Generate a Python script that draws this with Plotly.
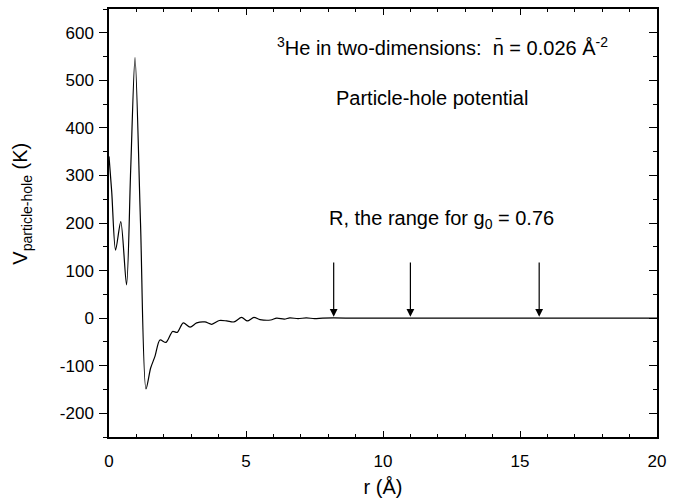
import plotly.graph_objects as go

# Particle-hole potential of 2D 3He, r in Angstrom, V in K
r_vals = [0.0, 0.10, 0.24, 0.43, 0.64, 0.79, 0.95, 1.15, 1.35, 1.52, 1.68, 1.86,
          2.08, 2.32, 2.49, 2.71, 2.96, 3.20, 3.50, 3.75, 4.03, 4.30, 4.56, 4.84,
          5.05, 5.29, 5.51, 5.90, 6.12, 6.40, 6.60, 6.90, 7.20, 7.50, 7.80, 8.20,
          9.00, 10.0, 12.0, 15.0, 20.0]
v_vals = [340, 265, 143, 203, 70, 310, 548, 200, -149, -105, -80, -46,
          -51, -28, -30, -10, -19, -10, -8, -13, -5, -6, -8, 1.5,
          -6, 1.5, -3, -4, 0, -2, 0.5, -1, 0.5, -1, 0, 0.3,
          0, 0, 0, 0, 0]

# Range markers R for g0 = 0.76
range_marks = [8.2, 11.0, 15.7]
arrow_top = 120
arrow_tip = 3

x_ticks = [0, 5, 10, 15, 20]
y_ticks = [-200, -100, 0, 100, 200, 300, 400, 500, 600]
y_ticklabels = [str(v) for v in y_ticks]

FONT = "Liberation Sans, Arial, sans-serif"

fig = go.Figure()
fig.add_trace(go.Scatter(
    x=r_vals, y=v_vals, mode="lines",
    line=dict(color="black", width=1.2, shape="spline", smoothing=0.8),
    showlegend=False, hoverinfo="skip"))
# Invisible trace to carry the right-hand axis
fig.add_trace(go.Scatter(x=[0], y=[0], yaxis="y2", mode="markers",
                         marker=dict(opacity=0), showlegend=False,
                         hoverinfo="skip"))

for xm in range_marks:
    fig.add_annotation(x=xm, y=arrow_tip, ax=xm, ay=arrow_top,
                       xref="x", yref="y", axref="x", ayref="y",
                       showarrow=True, arrowhead=2, arrowsize=1.3,
                       arrowwidth=1.2, arrowcolor="black", text="")


def px(xpix, ypix):
    # convert page pixel position to paper coords
    return (xpix - 109) / (657 - 109), (438 - ypix) / (438 - 7)


annos = [
    ("<sup>3</sup>He in two-dimensions:\u00a0\u00a0n\u0304 = 0.026 Å<sup>-2</sup>", 442, 45),
    ("Particle-hole potential", 432, 97),
    ("R, the range for g<sub>0</sub> = 0.76", 441, 219),
]
for txt, xp, yp in annos:
    xx, yy = px(xp, yp)
    fig.add_annotation(x=xx, y=yy, xref="paper", yref="paper", text=txt,
                       showarrow=False, font=dict(family=FONT, size=20, color="black"),
                       xanchor="center", yanchor="middle")

# y axis title
xx, yy = px(22, 203)
fig.add_annotation(x=xx, y=yy, xref="paper", yref="paper",
                   text="V<sub>particle-hole</sub> (K)", textangle=-90,
                   showarrow=False, font=dict(family=FONT, size=20, color="black"),
                   xanchor="center", yanchor="middle")

axis_common = dict(showline=True, linecolor="black", linewidth=1.5,
                   showgrid=False, zeroline=False,
                   tickfont=dict(family=FONT, size=17, color="black"),
                   tickcolor="black", tickwidth=1.3)

fig.update_layout(
    width=682, height=502,
    margin=dict(l=109, r=25, t=7, b=64),
    paper_bgcolor="white", plot_bgcolor="white",
    xaxis=dict(range=[0, 20], tickvals=x_ticks, ticks="inside", ticklen=6,
               mirror="ticks", ticklabelstandoff=8,
               minor=dict(dtick=1, ticks="inside", ticklen=3,
                          tickcolor="black", tickwidth=1.3),
               title=dict(text="r (Å)", font=dict(family=FONT, size=20, color="black"),
                          standoff=10),
               **axis_common),
    yaxis=dict(range=[-250, 650], tickvals=y_ticks, ticktext=y_ticklabels,
               ticks="outside", ticklen=8,
               mirror=True, ticklabelstandoff=2,
               minor=dict(dtick=50, tick0=0, ticks="outside", ticklen=4,
                          tickcolor="black", tickwidth=1.3),
               **axis_common),
    yaxis2=dict(range=[-250, 650], overlaying="y", side="right",
                tickvals=y_ticks, ticks="inside", ticklen=8,
                showticklabels=False,
                minor=dict(dtick=50, tick0=0, ticks="inside", ticklen=4,
                           tickcolor="black", tickwidth=1.3),
                **axis_common),
)

fig.write_html("out.html")
